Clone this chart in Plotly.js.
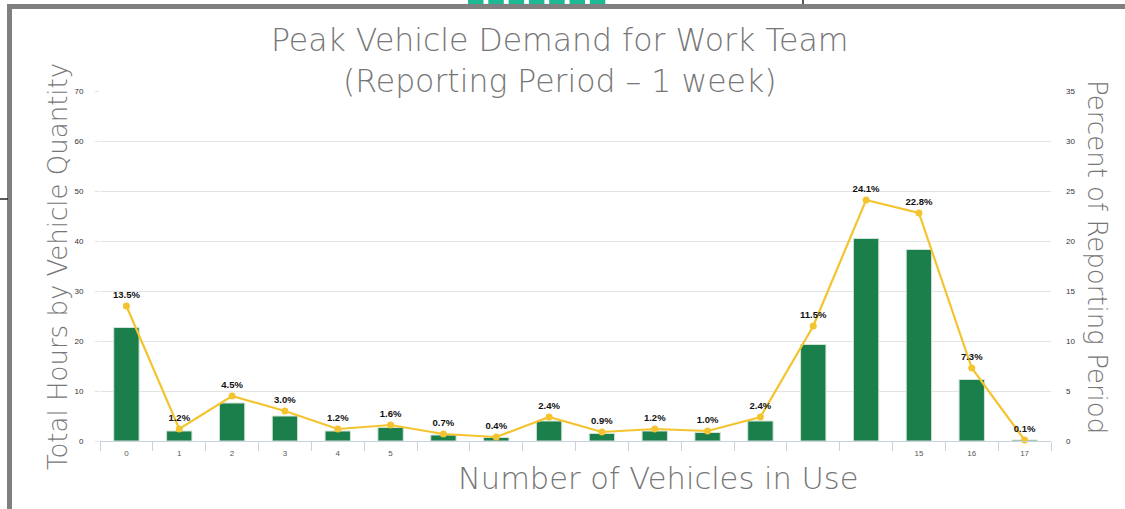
<!DOCTYPE html>
<html>
<head>
<meta charset="utf-8">
<script src="https://cdn.plot.ly/plotly-3.0.1.min.js"></script>
<style>html,body{margin:0;padding:0;background:#fff;}#chart{width:1125px;height:509px;}</style>
</head>
<body>
<div id="chart"></div>
<script>
// Data
const vehicles = ['0','1','2','3','4','5','6','7','8','9','10','11','12','13','14','15','16','17'];
const tickLabels = ['0','1','2','3','4','5','','','','','','','','','','15','16','17'];
const hours = [22.7, 2.0, 7.6, 5.0, 2.0, 2.7, 1.2, 0.7, 4.0, 1.5, 2.0, 1.7, 4.0, 19.3, 40.5, 38.3, 12.3, 0.2];
const percent = [13.5, 1.2, 4.5, 3.0, 1.2, 1.6, 0.7, 0.4, 2.4, 0.9, 1.2, 1.0, 2.4, 11.5, 24.1, 22.8, 7.3, 0.1];
const leftTicks = [0, 10, 20, 30, 40, 50, 60, 70];
const rightTicks = [0, 5, 10, 15, 20, 25, 30, 35];

const titleColor = '#767676';
const fam = 'DejaVu Sans, Open Sans, sans-serif';

const traces = [
  {
    type: 'bar', x: vehicles, y: hours, yaxis: 'y',
    marker: {color: '#1a7f4b', line: {color: '#d3e3d8', width: 1}},
    hoverinfo: 'x+y', showlegend: false
  },
  {
    type: 'scatter', mode: 'lines+markers+text', x: vehicles, y: percent, yaxis: 'y2',
    line: {color: '#f4c430', width: 2.2},
    marker: {color: '#f4c430', size: 7},
    texttemplate: '%{y:.1f}%', textposition: 'top center',
    textfont: {family: 'Liberation Sans, Arial, sans-serif', size: 9.5, color: '#111', weight: 'bold'},
    cliponaxis: false, showlegend: false
  }
];

// pixel -> paper helpers (plot area: x 100..1051, y 91..441)
const L = 100, R = 74, T = 91, B = 68, W = 1125 - L - R, H = 509 - T - B;
const px = v => (v - L) / W;
const py = v => (509 - B - v) / H;

const shapes = [
  // slide frame
  {type: 'line', xref: 'paper', yref: 'paper', x0: px(7), x1: px(1125), y0: py(6.5), y1: py(6.5), line: {color: '#808080', width: 5}},
  {type: 'line', xref: 'paper', yref: 'paper', x0: px(9.5), x1: px(9.5), y0: py(4), y1: py(509), line: {color: '#808080', width: 5}},
  {type: 'line', xref: 'paper', yref: 'paper', x0: px(0), x1: px(8), y0: py(199), y1: py(199), line: {color: '#222', width: 1.5}},
  {type: 'line', xref: 'paper', yref: 'paper', x0: px(803), x1: px(803), y0: py(0), y1: py(4), line: {color: '#222', width: 1.5}},
  // white patch interrupting top gridline behind title
  {type: 'rect', xref: 'paper', yref: 'paper', x0: px(246), x1: px(870), y0: py(86), y1: py(96), fillcolor: '#fff', line: {width: 0}, layer: 'above'}
];
for (let i = 0; i < 7; i++) {
  const x0 = 468 + i * 20.3;
  shapes.push({type: 'rect', xref: 'paper', yref: 'paper', x0: px(x0), x1: px(x0 + 15.5), y0: py(0), y1: py(4), fillcolor: '#1db894', line: {width: 0}});
}

const layout = {
  width: 1125, height: 509,
  margin: {l: L, r: R, t: T, b: B, pad: 0},
  paper_bgcolor: '#fff', plot_bgcolor: '#fff',
  bargap: 0.52,
  showlegend: false,
  xaxis: {
    type: 'category', range: [-0.5, 17.5], tickmode: 'array', tickvals: vehicles, ticktext: tickLabels,
    tickson: 'boundaries', ticks: 'outside', ticklen: 9, tickcolor: '#c9d3de', tickwidth: 1,
    showline: true, linecolor: '#c9d3de', linewidth: 1,
    showgrid: false, zeroline: false,
    tickfont: {family: 'Liberation Sans Narrow, Liberation Sans, sans-serif', size: 8, color: '#595959'},
    ticklabelstandoff: 4
  },
  yaxis: {
    range: [0, 70], tickmode: 'array', tickvals: leftTicks,
    showgrid: true, gridcolor: '#e3e3e3', gridwidth: 1,
    ticks: 'outside', ticklen: 4, tickcolor: '#e3e3e3',
    zeroline: false, showline: false,
    tickfont: {family: 'Liberation Sans, sans-serif', size: 8, color: '#333'},
    ticklabelstandoff: 10
  },
  yaxis2: {
    range: [0, 35], overlaying: 'y', side: 'right', tickmode: 'array', tickvals: rightTicks,
    showgrid: false, zeroline: false, showline: false, ticks: '',
    tickfont: {family: 'Liberation Sans, sans-serif', size: 8, color: '#333'},
    ticklabelstandoff: 14
  },
  shapes: shapes,
  annotations: [
    {text: 'Peak Vehicle Demand for Work Team<br>(Reporting Period – 1 week)', xref: 'paper', yref: 'paper',
     x: px(559), y: py(60), xanchor: 'center', yanchor: 'middle', showarrow: false,
     font: {family: fam, size: 31.5, color: titleColor, weight: 200}},
    {text: 'Number of Vehicles in Use', xref: 'paper', yref: 'paper',
     x: px(658), y: py(478), xanchor: 'center', yanchor: 'middle', showarrow: false,
     font: {family: fam, size: 30.5, color: titleColor, weight: 200}},
    {text: 'Total Hours by Vehicle Quantity', xref: 'paper', yref: 'paper', textangle: -90,
     x: px(58), y: py(267), xanchor: 'center', yanchor: 'middle', showarrow: false,
     font: {family: fam, size: 26, color: titleColor, weight: 200}},
    {text: 'Percent of Reporting Period', xref: 'paper', yref: 'paper', textangle: 90,
     x: px(1097), y: py(257), xanchor: 'center', yanchor: 'middle', showarrow: false,
     font: {family: fam, size: 26, color: titleColor, weight: 200}}
  ]
};

Plotly.newPlot('chart', traces, layout, {displayModeBar: false, staticPlot: true});
</script>
</body>
</html>
